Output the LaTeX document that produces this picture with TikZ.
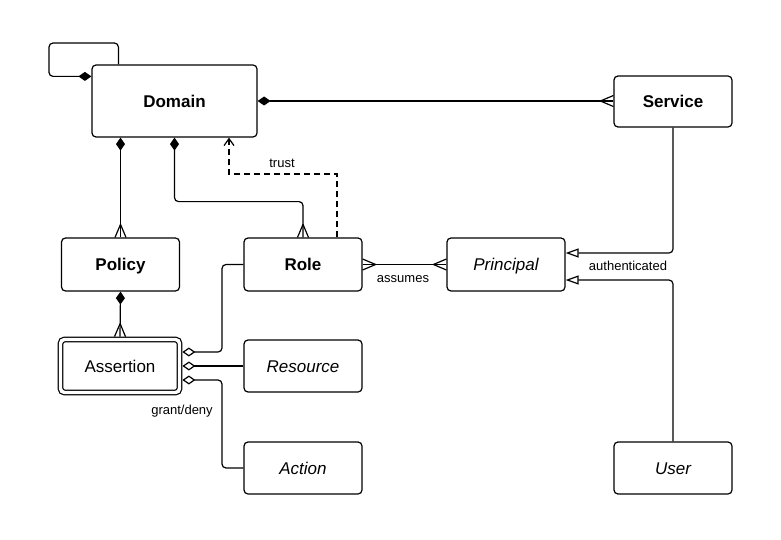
\documentclass[tikz,border=0pt]{standalone}
\usepackage{fontspec}
\setmainfont{Liberation Sans}
\usetikzlibrary{arrows.meta}
\pgfdeclarearrow{
  name = Crow,
  setup code = {
    \pgfarrowssettipend{0pt}
    \pgfarrowssetlineend{0pt}
    \pgfarrowssetbackend{-13pt}
    \pgfarrowssetvisualbackend{-13pt}
    \pgfarrowshullpoint{0pt}{5.5pt}
    \pgfarrowshullpoint{0pt}{-5.5pt}
    \pgfarrowshullpoint{-13pt}{0pt}
  },
  drawing code = {
    \pgfsetdash{}{0pt}
    \pgfsetroundjoin
    \pgfpathmoveto{\pgfqpoint{0pt}{5.5pt}}
    \pgfpathlineto{\pgfqpoint{-13pt}{0pt}}
    \pgfpathlineto{\pgfqpoint{0pt}{-5.5pt}}
    \pgfusepathqstroke
  }
}
\tikzset{
  box/.style={draw, rounded corners=4, minimum width=118, minimum height=53, inner sep=0,
    text height=12.2, text depth=0, font=\fontsize{17}{20}\selectfont},
  bbox/.style={box, font=\fontsize{17}{20}\selectfont\bfseries},
  ibox/.style={box, font=\fontsize{17}{20}\selectfont\itshape},
  lbl/.style={font=\fontsize{13}{15}\selectfont, inner sep=0},
  dia/.tip={Diamond[length=13, width=9]},
  odia/.tip={Diamond[open, length=13, width=9]},
  tri/.tip={Triangle[open, length=13, width=9]},
  barb/.tip={Straight Barb[length=7, width=10]},
  crow/.tip={Crow}
}
\begin{document}
\begin{tikzpicture}[x=1pt, y=-1pt, line width=1.2pt]
\useasboundingbox (0,0) rectangle (781,540);
\fill[white] (0,0) rectangle (781,540);

\node[bbox, minimum width=165, minimum height=72] (dom) at (174.5,101) {Domain};
\node[bbox, minimum height=51] (svc) at (673,101.5) {Service};
\node[bbox] (pol) at (120.5,264.5) {Policy};
\node[bbox] (role) at (303,264.5) {Role};
\node[ibox] (prin) at (506,264.5) {Principal};
\node[box, minimum width=119, minimum height=53, double, double distance=3.4, outer sep=2.9] (asr) at (120,366) {Assertion};
\node[ibox, minimum height=52] (res) at (303,366) {Resource};
\node[ibox, minimum height=52] (act) at (303,468) {Action};
\node[ibox, minimum height=52] (usr) at (673,468) {User};

% self loop
\draw[{dia}-, rounded corners=4] ([yshift=-12]dom.north west) -| (49,43) -| ([xshift=27]dom.north west);
% Domain - Service
\draw[{dia}-{crow}] (dom.east) -- (dom.east -| svc.west);
% Domain - Policy
\draw[{dia}-{crow}] (dom.south -| pol.north) -- (pol.north);
% Domain - Role
\draw[{dia}-{crow}, rounded corners=4] (dom.south) -- ++(0,64) -| (role.north);
% trust
\coordinate (t1) at (229,174);
\draw[dash pattern=on 6pt off 4pt, -{barb}] ([xshift=34]role.north) |- (t1) -- (t1 |- dom.south);
\node[lbl] (ltrust) at (282,163) {trust};
% Role - Principal
\draw[{crow}-{crow}] (role.east) -- (prin.west);
\node[lbl] (lassumes) at (403,279) {assumes};
% Service/User - Principal
\draw[-{tri}, rounded corners=4] (svc.south) |- ([yshift=11.5]prin.east);
\draw[-{tri}, rounded corners=4] (usr.north) |- ([yshift=-15.5]prin.east);
\node[lbl] (lauth) at (628,266) {authenticated};
% Policy - Assertion
\draw[{dia}-{crow}] (pol.south) -- (asr.north);
% Assertion - Role/Resource/Action
\coordinate (vx) at (222,0);
\draw[{odia}-, rounded corners=4] ([yshift=14]asr.east) -| (vx |- role.west) -- (role.west);
\draw[{odia}-] (asr.east) -- (asr.east -| res.west);
\draw[{odia}-, rounded corners=4] ([yshift=-14]asr.east) -| (vx |- act.west) -- (act.west);
\node[lbl] (lgrant) at (182,411) {grant/deny};
\end{tikzpicture}
\end{document}
